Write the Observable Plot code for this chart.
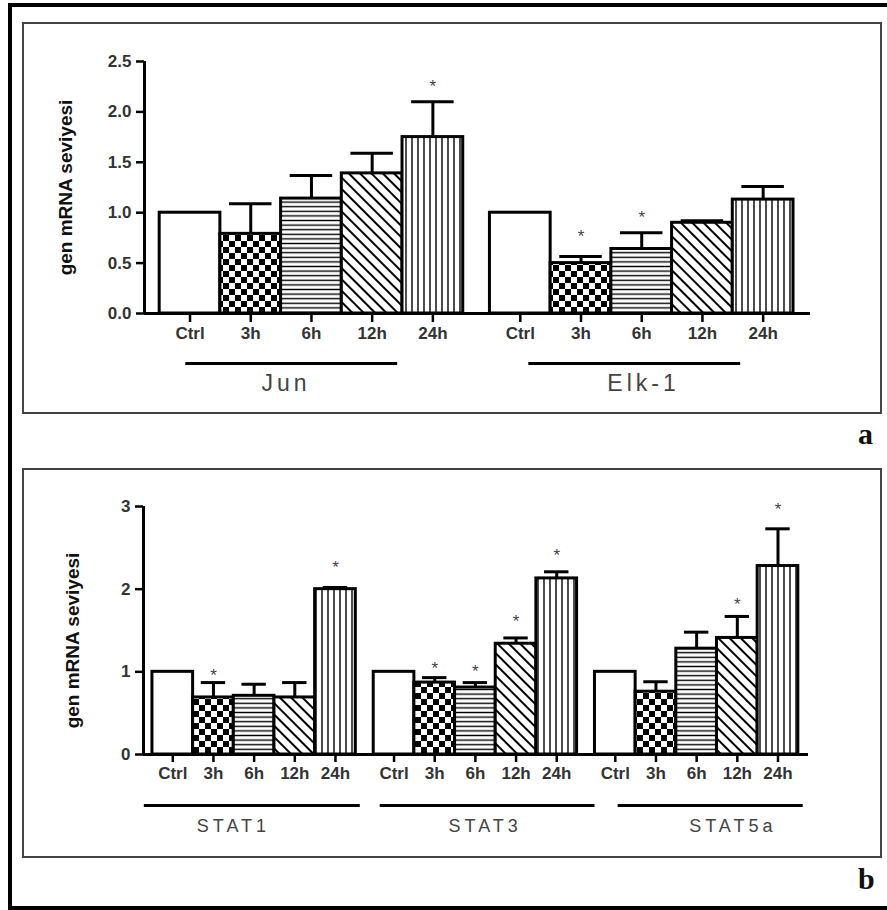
<!DOCTYPE html>
<html><head><meta charset="utf-8">
<script src="https://cdn.jsdelivr.net/npm/d3@7"></script>
<script src="https://cdn.jsdelivr.net/npm/@observablehq/plot@0.6"></script>
<style>
html,body{margin:0;padding:0;background:#fff;}
#page{position:relative;width:887px;height:910px;overflow:hidden;background:#fff;font-family:"Liberation Sans",Arial,sans-serif;}
#outer{position:absolute;left:8px;top:3px;width:900px;height:899px;border-left:4px solid #000;border-top:4px solid #000;border-bottom:4px solid #000;}
.frame{position:absolute;left:22px;width:860px;border:2px solid #444;box-sizing:border-box;}
.panel{position:absolute;left:25px;}
.tag{position:absolute;font-family:"Liberation Serif","DejaVu Serif",serif;font-weight:bold;font-size:30px;line-height:1;color:#111;}
</style>
</head><body>
<svg width="0" height="0" style="position:absolute">
<defs>
<pattern id="checker" width="12" height="12" patternUnits="userSpaceOnUse">
 <rect width="12" height="12" fill="#fff"/>
 <rect x="0" y="0" width="6" height="6" fill="#000"/>
 <rect x="6" y="6" width="6" height="6" fill="#000"/>
</pattern>
<pattern id="hlines" width="10" height="4.6" patternUnits="userSpaceOnUse">
 <rect width="10" height="4.6" fill="#fff"/>
 <line x1="0" y1="2.3" x2="10" y2="2.3" stroke="#000" stroke-width="1.4"/>
</pattern>
<pattern id="diag" width="8" height="8" patternUnits="userSpaceOnUse" patternTransform="rotate(-45)">
 <rect width="8" height="8" fill="#fff"/>
 <line x1="4" y1="0" x2="4" y2="8" stroke="#000" stroke-width="2"/>
</pattern>
<pattern id="vlines" width="6" height="10" patternUnits="userSpaceOnUse">
 <rect width="6" height="10" fill="#fff"/>
 <line x1="3" y1="0" x2="3" y2="10" stroke="#000" stroke-width="1.4"/>
</pattern>
</defs></svg>
<div id="page">
  <div id="outer"></div>
  <div class="frame" style="top:22px;height:392px;"></div>
  <div class="frame" style="top:468px;height:390px;"></div>
  <div id="pa" class="panel" style="top:25px;"></div>
  <div id="pb" class="panel" style="top:471px;"></div>
  <div class="tag" style="left:858px;top:419px;">a</div>
  <div class="tag" style="left:858px;top:864px;">b</div>
</div>
<script>
// ---------- data ----------
const times = ["Ctrl", "3h", "6h", "12h", "24h"];
const yLabel = "gen mRNA seviyesi";

// panel a
const groupsA = ["Jun", "Elk-1"];
const valuesJun = [1.0, 0.79, 1.14, 1.39, 1.75];
const errorsJun = [0, 0.30, 0.23, 0.20, 0.35];
const starsJun = [null, null, null, null, 2.29];
const valuesElk = [1.0, 0.50, 0.64, 0.90, 1.13];
const errorsElk = [0, 0.065, 0.16, 0.02, 0.13];
const starsElk = [null, 0.80, 0.99, null, null];
const yTicksA = [0, 0.5, 1.0, 1.5, 2.0, 2.5];

// panel b
const groupsB = ["STAT1", "STAT3", "STAT5a"];
const valuesSTAT1 = [1.0, 0.69, 0.71, 0.69, 2.0];
const errorsSTAT1 = [0, 0.18, 0.14, 0.18, 0.02];
const starsSTAT1 = [null, 1.00, null, null, 2.31];
const valuesSTAT3 = [1.0, 0.87, 0.81, 1.34, 2.13];
const errorsSTAT3 = [0, 0.06, 0.06, 0.07, 0.08];
const starsSTAT3 = [null, 1.09, 1.05, 1.66, 2.45];
const valuesSTAT5a = [1.0, 0.76, 1.28, 1.41, 2.28];
const errorsSTAT5a = [0, 0.12, 0.20, 0.26, 0.45];
const starsSTAT5a = [null, null, null, 1.86, 3.01];
const yTicksB = [0, 1, 2, 3];

// ---------- styling ----------
const patterns = {"Ctrl": "#ffffff", "3h": "url(#checker)", "6h": "url(#hlines)", "12h": "url(#diag)", "24h": "url(#vlines)"};
const GAP = 0.44;

function buildRows(groups, values, errors, stars) {
  const rows = [];
  groups.forEach((g, gi) => {
    times.forEach((t, ti) => {
      const x1 = gi * (times.length + GAP) + ti;
      rows.push({group: g, gi, time: t, value: values[gi][ti], err: errors[gi][ti], star: stars[gi][ti],
                 x1, x2: x1 + 1, xc: x1 + 0.5, start: gi * (times.length + GAP)});
    });
  });
  return rows;
}

function panel(cfg) {
  const rows = buildRows(cfg.groups, cfg.values, cfg.errors, cfg.stars);
  const errRows = rows.filter(d => d.err > 0);
  const starRows = rows.filter(d => d.star != null);
  const xmin = cfg.xPad[0];
  const xmax = cfg.groups.length * times.length + (cfg.groups.length - 1) * GAP + cfg.xPad[1];
  const centers = rows.map(d => d.xc);
  const tickLabel = new Map(rows.map(d => [d.xc, d.time]));
  const groupRows = cfg.groups.map((g, gi) => ({g, start: gi * (times.length + GAP), gi}));
  const ymax = cfg.yTicks[cfg.yTicks.length - 1];
  const svg = Plot.plot({
    width: 854, height: cfg.height,
    marginLeft: cfg.ml, marginRight: cfg.mr, marginTop: cfg.mt, marginBottom: cfg.mb,
    x: {domain: [xmin, xmax], axis: null},
    y: {domain: [0, ymax], axis: null},
    color: {type: "identity"},
    style: {fontFamily: "'Liberation Sans', Arial, sans-serif", fontSize: "17px", fontWeight: "bold", background: "transparent", overflow: "visible"},
    marks: [
      Plot.rectY(rows, {x1: "x1", x2: "x2", y1: 0, y2: "value", fill: d => patterns[d.time], stroke: "#000", strokeWidth: 3}),
      Plot.ruleX(errRows, {x: "xc", y1: "value", y2: d => d.value + d.err, stroke: "#000", strokeWidth: 3}),
      Plot.ruleY(errRows, {y: d => d.value + d.err, x1: d => d.xc - cfg.cap, x2: d => d.xc + cfg.cap, stroke: "#000", strokeWidth: 3}),
      Plot.text(starRows, {x: "xc", y: "star", text: () => "*", fill: "#444", fontSize: 17, fontWeight: "normal", dy: 4}),
      Plot.ruleY([0], {stroke: "#000", strokeWidth: 3}),
      Plot.ruleX([xmin], {y1: 0, y2: ymax, stroke: "#000", strokeWidth: 3}),
      Plot.axisY(cfg.yTicks, {tickSize: 8, tickPadding: 5, tickFormat: cfg.yFormat, stroke: "#000", strokeWidth: 2.5, fill: "#333"}),
      Plot.axisX(centers, {tickSize: cfg.xTickSize, tickPadding: 4, tickFormat: d => tickLabel.get(d), stroke: "#000", strokeWidth: 2.5, fill: "#333"}),
      Plot.ruleY(groupRows, {y: 0, x1: d => d.start + cfg.lines[d.gi][0], x2: d => d.start + cfg.lines[d.gi][1], dy: cfg.lineDy, stroke: "#000", strokeWidth: 3}),
      Plot.text(groupRows, {x: d => d.start + cfg.labels[d.gi], y: 0, text: "g", dy: cfg.labelDy, fill: "#444", fontWeight: "normal", fontSize: cfg.labelSize}),
      Plot.text([yLabel], {frameAnchor: "left", textAnchor: "middle", text: d => d, rotate: -90, dx: cfg.yLabelDx, dy: cfg.yLabelDy, fontSize: 19, fill: "#111"})
    ]
  });
  const groupSet = new Set(cfg.groups);
  d3.select(svg).selectAll("text").filter(function() { return groupSet.has(this.textContent); })
    .style("letter-spacing", cfg.letterSpacing);
  return svg;
}

document.getElementById("pa").appendChild(panel({
  groups: groupsA, values: [valuesJun, valuesElk], errors: [errorsJun, errorsElk], stars: [starsJun, starsElk],
  yTicks: yTicksA, yFormat: d3.format(".1f"), height: 386, ml: 119, mr: 69, mt: 36, mb: 98,
  xPad: [-0.25, 0.28], cap: 0.35, xTickSize: 9,
  lines: [[0.43, 3.92], [0.64, 4.13]], labels: [2.08, 2.53], lineDy: 50, labelDy: 70, labelSize: 23, letterSpacing: "4px",
  yLabelDx: -79, yLabelDy: 0
}));

document.getElementById("pb").appendChild(panel({
  groups: groupsB, values: [valuesSTAT1, valuesSTAT3, valuesSTAT5a], errors: [errorsSTAT1, errorsSTAT3, errorsSTAT5a],
  stars: [starsSTAT1, starsSTAT3, starsSTAT5a],
  yTicks: yTicksB, yFormat: d3.format("d"), height: 384, ml: 118, mr: 71, mt: 35, mb: 101,
  xPad: [-0.22, 0.25], cap: 0.3, xTickSize: 8,
  lines: [[-0.2, 5.11], [0.16, 5.44], [0.57, 5.12]], labels: [1.99, 2.74, 3.39], lineDy: 51, labelDy: 72, labelSize: 18, letterSpacing: "4px",
  yLabelDx: -71, yLabelDy: 10
}));
</script>
</body></html>
